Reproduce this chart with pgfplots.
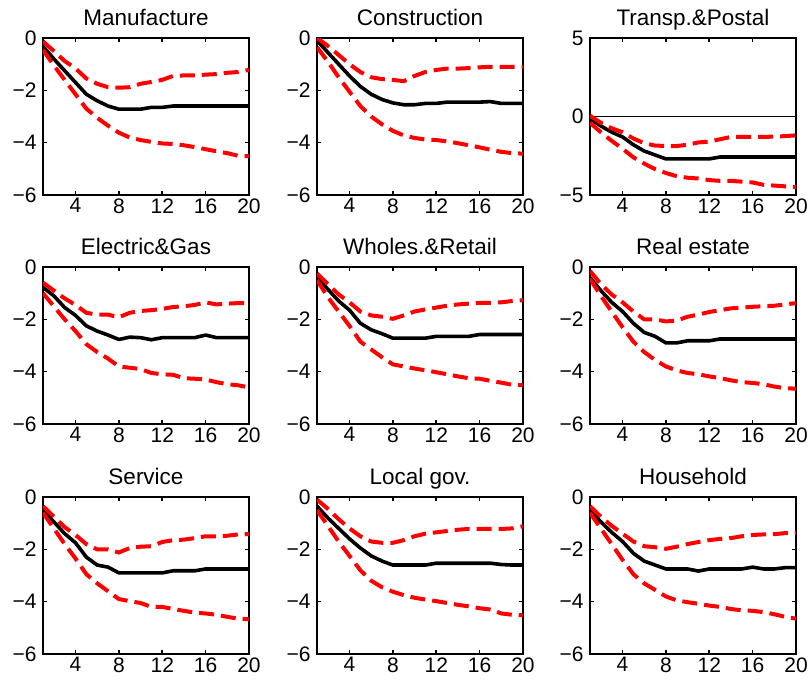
\documentclass[border=0pt]{standalone}
\usepackage{fontspec}
\setmainfont{Liberation Sans}
\usepackage{pgfplots}
\usepackage{pgfplotstable}
\pgfplotsset{compat=1.18}

% impulse responses: median (mid) with upper/lower bands
\pgfplotstableread{
x mid up lo
1 -0.32 -0.13 -0.45
2 -0.80 -0.50 -1.05
3 -1.25 -0.88 -1.60
4 -1.70 -1.16 -2.15
5 -2.15 -1.55 -2.70
6 -2.40 -1.75 -3.05
7 -2.60 -1.88 -3.35
8 -2.72 -1.90 -3.62
9 -2.72 -1.88 -3.80
10 -2.72 -1.75 -3.90
11 -2.65 -1.68 -3.97
12 -2.65 -1.60 -4.03
13 -2.60 -1.45 -4.05
14 -2.60 -1.43 -4.10
15 -2.60 -1.43 -4.17
16 -2.60 -1.40 -4.25
17 -2.60 -1.38 -4.33
18 -2.60 -1.33 -4.40
19 -2.60 -1.30 -4.50
20 -2.60 -1.22 -4.52
}\manuf
\pgfplotstableread{
x mid up lo
1 -0.10 0.00 -0.35
2 -0.55 -0.30 -0.90
3 -1.00 -0.65 -1.50
4 -1.45 -1.00 -2.05
5 -1.85 -1.30 -2.60
6 -2.15 -1.50 -3.00
7 -2.35 -1.57 -3.30
8 -2.48 -1.60 -3.55
9 -2.55 -1.65 -3.72
10 -2.55 -1.45 -3.82
11 -2.50 -1.30 -3.88
12 -2.50 -1.22 -3.90
13 -2.45 -1.17 -3.95
14 -2.45 -1.17 -4.02
15 -2.45 -1.15 -4.10
16 -2.45 -1.12 -4.18
17 -2.43 -1.10 -4.27
18 -2.50 -1.10 -4.35
19 -2.50 -1.10 -4.40
20 -2.50 -1.10 -4.42
}\constr
\pgfplotstableread{
x mid up lo
1 -0.15 0.05 -0.40
2 -0.60 -0.40 -1.00
3 -1.00 -0.75 -1.55
4 -1.30 -1.00 -2.05
5 -1.80 -1.40 -2.60
6 -2.20 -1.70 -3.00
7 -2.45 -1.85 -3.35
8 -2.70 -1.88 -3.60
9 -2.70 -1.88 -3.80
10 -2.70 -1.80 -3.90
11 -2.70 -1.65 -3.95
12 -2.70 -1.60 -4.05
13 -2.58 -1.45 -4.10
14 -2.58 -1.30 -4.10
15 -2.58 -1.30 -4.15
16 -2.58 -1.30 -4.20
17 -2.58 -1.30 -4.35
18 -2.58 -1.28 -4.40
19 -2.58 -1.25 -4.45
20 -2.58 -1.20 -4.50
}\transp
\pgfplotstableread{
x mid up lo
1 -0.78 -0.60 -1.00
2 -1.10 -0.90 -1.50
3 -1.55 -1.20 -2.00
4 -1.85 -1.45 -2.45
5 -2.25 -1.75 -2.95
6 -2.45 -1.82 -3.25
7 -2.60 -1.82 -3.50
8 -2.77 -1.92 -3.80
9 -2.68 -1.75 -3.85
10 -2.70 -1.68 -3.90
11 -2.78 -1.65 -4.05
12 -2.70 -1.60 -4.10
13 -2.70 -1.53 -4.12
14 -2.70 -1.50 -4.25
15 -2.70 -1.45 -4.27
16 -2.60 -1.35 -4.30
17 -2.70 -1.43 -4.40
18 -2.70 -1.40 -4.48
19 -2.70 -1.38 -4.52
20 -2.70 -1.38 -4.60
}\elec
\pgfplotstableread{
x mid up lo
1 -0.38 -0.25 -0.50
2 -0.85 -0.65 -1.15
3 -1.30 -1.05 -1.70
4 -1.65 -1.35 -2.25
5 -2.15 -1.70 -2.85
6 -2.40 -1.85 -3.15
7 -2.55 -1.90 -3.45
8 -2.72 -1.98 -3.72
9 -2.72 -1.85 -3.80
10 -2.72 -1.70 -3.88
11 -2.72 -1.62 -3.95
12 -2.65 -1.55 -4.02
13 -2.65 -1.48 -4.10
14 -2.65 -1.43 -4.18
15 -2.65 -1.40 -4.25
16 -2.58 -1.37 -4.27
17 -2.58 -1.37 -4.35
18 -2.58 -1.35 -4.42
19 -2.58 -1.30 -4.50
20 -2.58 -1.27 -4.52
}\whole
\pgfplotstableread{
x mid up lo
1 -0.40 -0.15 -0.45
2 -0.90 -0.65 -1.10
3 -1.35 -1.05 -1.70
4 -1.70 -1.35 -2.30
5 -2.15 -1.70 -2.85
6 -2.50 -2.00 -3.25
7 -2.65 -2.00 -3.55
8 -2.90 -2.08 -3.80
9 -2.90 -2.05 -3.95
10 -2.82 -1.90 -4.05
11 -2.82 -1.82 -4.10
12 -2.82 -1.72 -4.18
13 -2.75 -1.65 -4.25
14 -2.75 -1.58 -4.33
15 -2.75 -1.55 -4.40
16 -2.75 -1.52 -4.43
17 -2.75 -1.50 -4.48
18 -2.75 -1.48 -4.57
19 -2.75 -1.43 -4.63
20 -2.75 -1.38 -4.65
}\realest
\pgfplotstableread{
x mid up lo
1 -0.50 -0.35 -0.60
2 -0.95 -0.75 -1.20
3 -1.40 -1.15 -1.80
4 -1.75 -1.45 -2.35
5 -2.30 -1.80 -2.95
6 -2.60 -2.00 -3.30
7 -2.68 -2.00 -3.60
8 -2.90 -2.12 -3.90
9 -2.90 -1.95 -3.98
10 -2.90 -1.90 -4.05
11 -2.90 -1.88 -4.20
12 -2.90 -1.72 -4.20
13 -2.82 -1.65 -4.28
14 -2.82 -1.63 -4.35
15 -2.82 -1.57 -4.42
16 -2.75 -1.50 -4.45
17 -2.75 -1.50 -4.50
18 -2.75 -1.48 -4.58
19 -2.75 -1.43 -4.65
20 -2.75 -1.42 -4.67
}\service
\pgfplotstableread{
x mid up lo
1 -0.35 -0.10 -0.50
2 -0.80 -0.45 -1.10
3 -1.20 -0.85 -1.70
4 -1.60 -1.20 -2.25
5 -1.95 -1.50 -2.80
6 -2.25 -1.70 -3.20
7 -2.45 -1.75 -3.45
8 -2.60 -1.75 -3.62
9 -2.60 -1.65 -3.75
10 -2.60 -1.50 -3.85
11 -2.60 -1.40 -3.92
12 -2.53 -1.35 -3.98
13 -2.53 -1.30 -4.05
14 -2.53 -1.25 -4.12
15 -2.53 -1.22 -4.18
16 -2.53 -1.22 -4.25
17 -2.53 -1.22 -4.30
18 -2.58 -1.22 -4.45
19 -2.60 -1.20 -4.50
20 -2.60 -1.12 -4.52
}\localgov
\pgfplotstableread{
x mid up lo
1 -0.50 -0.35 -0.60
2 -0.95 -0.75 -1.20
3 -1.35 -1.10 -1.80
4 -1.70 -1.40 -2.40
5 -2.15 -1.70 -2.95
6 -2.45 -1.88 -3.30
7 -2.60 -1.92 -3.55
8 -2.75 -1.98 -3.80
9 -2.75 -1.90 -3.95
10 -2.75 -1.80 -4.02
11 -2.83 -1.72 -4.08
12 -2.75 -1.65 -4.15
13 -2.75 -1.60 -4.20
14 -2.75 -1.57 -4.28
15 -2.75 -1.50 -4.33
16 -2.68 -1.45 -4.35
17 -2.75 -1.43 -4.40
18 -2.75 -1.42 -4.48
19 -2.70 -1.38 -4.58
20 -2.70 -1.37 -4.65
}\household

\pgfplotsset{
  irf/.style={
    scale only axis, width=206pt, height=157pt,
    xmin=1, xmax=20, xtick={4,8,12,16,20},
    tick align=inside, major tick length=4pt,
    every tick/.style={black, line width=1.6pt},
    axis line style={black, line width=1.2pt},
    tick label style={font=\fontsize{21}{25}\selectfont},
    /pgf/number format/assume math mode=true,
    yticklabel style={xshift=-3pt},
    title style={font=\fontsize{22.5}{27}\selectfont, at={(0.5,1)}, anchor=base, yshift=7pt},
  },
  median/.style={black, line width=3.6pt, line join=round, no markers},
  band/.style={red, line width=4pt, dash pattern=on 15pt off 7pt, no markers},
}

% one panel: #1 x-position, #2 y-position, #3 title, #4 table
\newcommand{\irfpanel}[4]{%
  \begin{axis}[irf, at={(#1,#2)}, title={#3},
      ymin=-6, ymax=0, ytick={-6,-4,-2,0}, yticklabels={−6,−4,−2,0}]
    \addplot[median] table[x=x, y=mid] {#4};
    \addplot[band] table[x=x, y=up] {#4};
    \addplot[band] table[x=x, y=lo] {#4};
  \end{axis}}

\begin{document}
\begin{tikzpicture}
\useasboundingbox (0pt,0pt) rectangle (809pt,-685pt);

\irfpanel{43pt}{-195pt}{Manufacture}{\manuf}
\irfpanel{317pt}{-195pt}{Construction}{\constr}

\begin{axis}[irf, at={(590pt,-195pt)}, title={Transp.\&Postal},
    ymin=-5, ymax=5, ytick={-5,0,5}, yticklabels={−5,0,5}]
  \addplot[black, line width=0.8pt, no markers] coordinates {(1,0) (20,0)};
  \addplot[median] table[x=x, y=mid] {\transp};
  \addplot[band] table[x=x, y=up] {\transp};
  \addplot[band] table[x=x, y=lo] {\transp};
\end{axis}

\irfpanel{43pt}{-424pt}{Electric\&Gas}{\elec}
\irfpanel{317pt}{-424pt}{Wholes.\&Retail}{\whole}
\irfpanel{590pt}{-424pt}{Real estate}{\realest}

\irfpanel{43pt}{-654pt}{Service}{\service}
\irfpanel{317pt}{-654pt}{Local gov.}{\localgov}
\irfpanel{590pt}{-654pt}{Household}{\household}
\end{tikzpicture}
\end{document}
